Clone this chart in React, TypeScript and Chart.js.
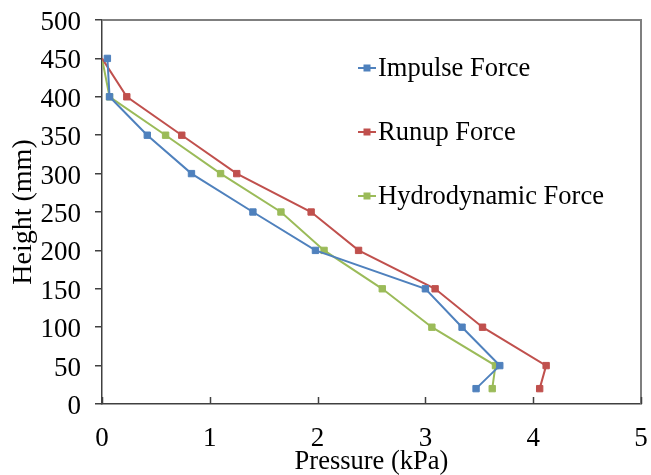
import React, { useEffect, useRef } from "react";
import { Chart, registerables } from "chart.js";

Chart.register(...registerables);

const heights = [450, 400, 350, 300, 250, 200, 150, 100, 50, 20];
const impulse = [0.05, 0.07, 0.42, 0.83, 1.4, 1.98, 3.0, 3.34, 3.69, 3.47];
const runup = [0, 0.23, 0.74, 1.25, 1.94, 2.38, 3.09, 3.53, 4.12, 4.06];
const hydro = [0, 0.07, 0.59, 1.1, 1.66, 2.06, 2.6, 3.06, 3.65, 3.62];
const seriesNames = ["Impulse Force", "Runup Force", "Hydrodynamic Force"];
const colors = ["#4F81BD", "#C0504D", "#9BBB59"];
const xTitle = "Pressure (kPa)";
const yTitle = "Height (mm)";

const FONT = "'Liberation Serif', 'Times New Roman', serif";

const boxPlugin = {
  id: "boxAndTicks",
  afterDraw(chart: any) {
    const { ctx, chartArea } = chart;
    const { left, right, top, bottom } = chartArea;
    ctx.save();
    ctx.strokeStyle = "#7F7F7F";
    ctx.lineWidth = 2;
    ctx.beginPath();
    ctx.moveTo(left, top);
    ctx.lineTo(right, top);
    ctx.lineTo(right, bottom);
    ctx.stroke();
    const xs = chart.scales.x;
    ctx.strokeStyle = "#404040";
    ctx.lineWidth = 1.5;
    ctx.beginPath();
    xs.ticks.forEach((t: any) => {
      const px = Math.round(xs.getPixelForValue(t.value)) + 0.5;
      ctx.moveTo(px, bottom);
      ctx.lineTo(px, bottom - 7);
    });
    ctx.stroke();
    ctx.restore();
  },
};

const legendPlugin = {
  id: "insideLegend",
  afterDraw(chart: any) {
    const { ctx } = chart;
    const x0 = 358;
    const ys = [68, 132, 196];
    ctx.save();
    chart.data.datasets.forEach((ds: any, i: number) => {
      const y = ys[i];
      ctx.strokeStyle = ds.borderColor;
      ctx.lineWidth = 2;
      ctx.beginPath();
      ctx.moveTo(x0, y);
      ctx.lineTo(x0 + 18, y);
      ctx.stroke();
      ctx.fillStyle = ds.borderColor;
      ctx.fillRect(x0 + 9 - 3.5, y - 3.5, 7, 7);
      ctx.fillStyle = "#000";
      ctx.font = `26.5px ${FONT}`;
      ctx.textBaseline = "middle";
      ctx.textAlign = "left";
      ctx.fillText(ds.label, x0 + 20, y + 1);
    });
    ctx.restore();
  },
};

export default function App() {
  const ref = useRef<HTMLCanvasElement>(null);
  useEffect(() => {
    if (!ref.current) return;
    const series = [impulse, runup, hydro];
    const chart = new Chart(ref.current, {
      type: "line",
      data: {
        datasets: series.map((s, i) => ({
          label: seriesNames[i],
          data: s.map((p, j) => ({ x: p, y: heights[j] })),
          borderColor: colors[i],
          backgroundColor: colors[i],
          borderWidth: 2,
          pointStyle: "rect",
          pointRadius: (c: any) => (c.raw && c.raw.x === 0 ? 0 : 4.5),
          pointBorderWidth: 1,
          pointHoverRadius: 4.5,
          tension: 0,
          fill: false,
        })),
      },
      options: {
        animation: false,
        responsive: false,
        layout: { padding: { left: 0, right: 10, top: 20, bottom: 0 } },
        plugins: { legend: { display: false }, tooltip: { enabled: false } },
        scales: {
          x: {
            type: "linear",
            min: 0,
            max: 5,
            ticks: { stepSize: 1, color: "#000", font: { family: FONT, size: 27 }, padding: 11, maxRotation: 0 },
            grid: { display: false },
            border: { display: true, color: "#404040", width: 1.5 },
            title: { display: true, text: xTitle, color: "#000", font: { family: FONT, size: 26.5 }, padding: { top: 0, bottom: -3 } },
            afterFit: (s: any) => { s.height = 71; s.paddingLeft = 0; s.paddingRight = 0; },
          },
          y: {
            type: "linear",
            min: 0,
            max: 500,
            ticks: { stepSize: 50, color: "#000", font: { family: FONT, size: 27 }, padding: 14, labelOffset: 3 },
            grid: { display: true, drawOnChartArea: false, drawTicks: true, tickLength: 7, color: "#404040", lineWidth: 1.5 },
            border: { display: true, color: "#404040", width: 1.5 },
            title: { display: true, text: yTitle, color: "#000", font: { family: FONT, size: 28 }, padding: { top: 7, bottom: 0 } },
            afterFit: (s: any) => { s.width = 102; s.paddingTop = 0; s.paddingBottom = 0; },
          },
        },
      },
      plugins: [boxPlugin, legendPlugin],
    } as any);
    return () => chart.destroy();
  }, []);
  return (
    <div style={{ position: "absolute", left: 0, top: 0, width: 651, height: 475, background: "#fff" }}>
      <canvas ref={ref} width={651} height={475} />
    </div>
  );
}
